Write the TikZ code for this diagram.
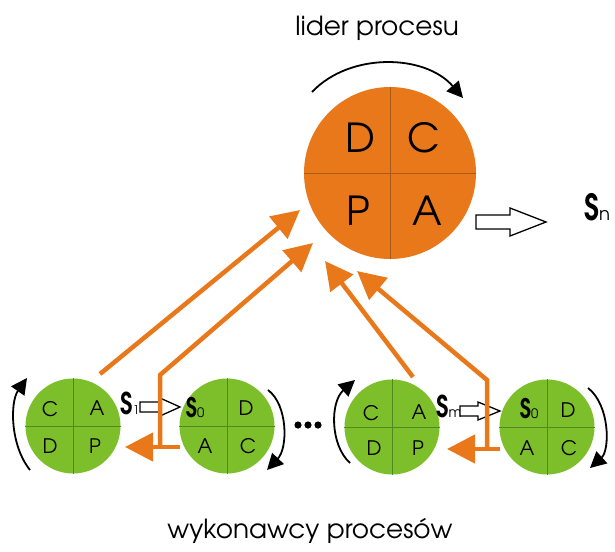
\documentclass[tikz,border=0pt]{standalone}
\usepackage{fontspec}
\setmainfont{TeX Gyre Adventor}
\usetikzlibrary{arrows.meta}
\definecolor{leadfill}{HTML}{E8781A}
\definecolor{leadline}{HTML}{A85A18}
\definecolor{workfill}{HTML}{7DBF2B}
\definecolor{workline}{HTML}{4F8A22}
\definecolor{flow}{HTML}{E8781A}
% a narrow heavy state letter S with its index
\newcommand{\stateS}[3]{{\fontsize{#1}{#1}\selectfont\bfseries\scalebox{0.8}[1]{S}}{\fontsize{#2}{#2}\selectfont #3}}
\begin{document}
\begin{tikzpicture}[x=1pt,y=-1pt,
  lead/.style={circle, fill=leadfill, minimum size=172pt, inner sep=0pt},
  worker/.style={circle, fill=workfill, minimum size=95pt, inner sep=0pt},
  leaddiv/.style={draw=leadline, line width=0.7pt},
  workdiv/.style={draw=workline, line width=0.6pt},
  biglet/.style={font=\fontsize{40}{40}\selectfont, anchor=base, inner sep=0pt},
  smalllet/.style={font=\fontsize{20}{20}\selectfont, anchor=base, inner sep=0pt},
  title/.style={font=\fontsize{26.3}{26.3}\selectfont, anchor=base, inner sep=0pt},
  statelab/.style={anchor=base, inner sep=0pt},
  cyc/.style={line width=1.8pt, -{Triangle[length=16pt,width=16pt]}},
  flowarrow/.style={draw=flow, line width=4.5pt, -{Triangle[length=28pt,width=28pt]}},
  hollow/.style={draw=black, line width=1.3pt, fill=white, line join=miter},
]
\useasboundingbox (0,0) rectangle (615,551);

% titles
\node[title] (ttop) at (377,36) {lider procesu};
\node[title] (tbot) at (310,538) {wykonawcy procesów};

% leader cycle
\node[lead] (lead) at (390,173) {};
\draw[leaddiv] (lead.north) -- (lead.south) (lead.west) -- (lead.east);
\node[biglet] (lD) at (360,152) {D};
\node[biglet] (lC) at (424,152) {C};
\node[biglet] (lP) at (358,225) {P};
\node[biglet] (lA) at (427,225) {A};
\coordinate (ca1) at (312,92);
\coordinate (ca2) at (463,98);
\draw[cyc] (ca1) .. controls (350,52) and (425,54) .. (ca2);

% output of the leader
\coordinate (hn) at (476,222);
\draw[hollow] (hn) ++(0,-7) -- ++(34,0) -- ++(0,-7) -- ++(36,14) -- ++(-36,14) -- ++(0,-7) -- ++(-34,0) -- cycle;
\node[statelab, anchor=base west] (sn) at (584,220) {\stateS{36}{18}{n}};

% workers
\node[worker] (w1) at (73,426) {};
\node[worker] (w2) at (227,426) {};
\node[worker] (w3) at (392,427) {};
\node[worker] (w4) at (547,427) {};
\foreach \w in {w1,w2,w3,w4}
  \draw[workdiv] (\w.north) -- (\w.south) (\w.west) -- (\w.east);

\node[smalllet] (w1C) at (50,416) {C};
\node[smalllet] (w1A) at (97,415) {A};
\node[smalllet] (w1D) at (50,453) {D};
\node[smalllet] (w1P) at (95,453) {P};

\node[statelab] (w2S) at (195,417) {\stateS{27}{13}{0}};
\node[smalllet] (w2D) at (246,415) {D};
\node[smalllet] (w2A) at (205,453) {A};
\node[smalllet] (w2C) at (248,453) {C};

\node[smalllet] (w3C) at (371,420) {C};
\node[smalllet] (w3A) at (419,419) {A};
\node[smalllet] (w3D) at (374,455) {D};
\node[smalllet] (w3P) at (418,455) {P};

\node[statelab] (w4S) at (529,418) {\stateS{27}{13}{0}};
\node[smalllet] (w4D) at (568,417) {D};
\node[smalllet] (w4A) at (527,455) {A};
\node[smalllet] (w4C) at (569,455) {C};

% cycle arrows of the workers
\draw[cyc] (30,470) .. controls (10,445) and (10,402) .. (27,378);
\draw[cyc] (268,390) .. controls (288,405) and (288,448) .. (267,470);
\draw[cyc] (350,463) .. controls (330,445) and (330,402) .. (355,380);
\draw[cyc] (588,388) .. controls (610,405) and (610,450) .. (590,468);

% states handed on between workers
\node[statelab] (s1) at (130,414) {\stateS{30}{12}{1}};
\coordinate (h1) at (140,407);
\draw[hollow] (h1) ++(0,-5) -- ++(20,0) -- ++(0,-4) -- ++(20,9) -- ++(-20,9) -- ++(0,-4) -- ++(-20,0) -- cycle;
\node[statelab] (sm) at (449,417) {\stateS{30}{14}{m}};
\coordinate (hm) at (460,411);
\draw[hollow] (hm) ++(0,-5) -- ++(18,0) -- ++(0,-4) -- ++(22,9) -- ++(-22,9) -- ++(0,-4) -- ++(-18,0) -- cycle;

% ellipsis between worker pairs
\foreach \x in {298,308,318} \fill (\x,425) circle (3.6);

% reports to the leader and feedback to the workers
\coordinate (f1s) at (100,374); \coordinate (f1t) at (300,210);
\draw[flowarrow] (f1s) -- (f1t);
\coordinate (f2b) at (160,447); \coordinate (f2k) at (160,375); \coordinate (f2t) at (313,243);
\draw[flowarrow] (f2b) -- (f2k) -- (f2t);
\coordinate (b1s) at (180,447); \coordinate (b1t) at (125,447);
\draw[flowarrow] (b1s) -- (b1t);

\coordinate (f3s) at (413,377); \coordinate (f3t) at (325,261);
\draw[flowarrow] (f3s) -- (f3t);
\coordinate (f4b) at (487,449); \coordinate (f4k) at (487,380); \coordinate (f4t) at (357,271);
\draw[flowarrow] (f4b) -- (f4k) -- (f4t);
\coordinate (b2s) at (500,449); \coordinate (b2t) at (447,449);
\draw[flowarrow] (b2s) -- (b2t);
\end{tikzpicture}
\end{document}
